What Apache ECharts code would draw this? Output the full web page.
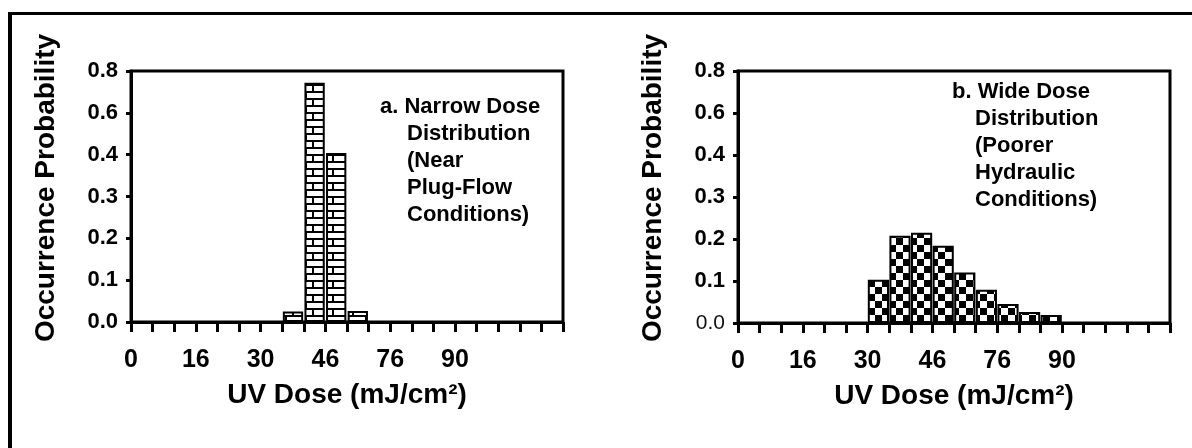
<!DOCTYPE html>
<html>
<head>
<meta charset="utf-8">
<script src="https://cdn.jsdelivr.net/npm/echarts@6/dist/echarts.min.js"></script>
<style>
html,body{margin:0;padding:0;background:#fff;}
#chart{width:1192px;height:448px;}
</style>
</head>
<body>
<div id="chart"></div>
<script>
// ---- data ----
const doseBins = ['0-5','5-10','10-15','15-20','20-25','25-30','30-35','35-40','40-45','45-50',
                  '50-55','55-60','60-65','65-70','70-75','75-80','80-85','85-90','90-95','95-100'];
// panel a: narrow dose distribution (heights in axis units)
const narrowValues = [0,0,0,0,0,0,0,0.025,0.572,0.404,0.026,0,0,0,0,0,0,0,0,0];
// panel b: wide dose distribution
const wideValues   = [0,0,0,0,0,0,0.103,0.208,0.215,0.184,0.12,0.079,0.045,0.026,0.019,0,0,0,0,0];
const xTickValues = [0,15,30,45,60,75];
const xTickLabels = ['0','16','30','46','76','90'];
const yTickLabels = ['0.0','0.1','0.2','0.3','0.4','0.6','0.8'];
const xName = 'UV Dose (mJ/cm\u00b2)';
const yName = 'Occurrence Probability';
const noteA = ['a. Narrow Dose','Distribution','(Near','Plug-Flow','Conditions)'];
const noteB = ['b. Wide Dose','Distribution','(Poorer','Hydraulic','Conditions)'];

// ---- patterns ----
function brickPattern(){
  const c=document.createElement('canvas'); c.width=20; c.height=14;
  const g=c.getContext('2d');
  g.fillStyle='#fff'; g.fillRect(0,0,20,14);
  g.fillStyle='#000';
  g.fillRect(0,0,20,2); g.fillRect(0,7,20,2);
  g.fillRect(12,0,2,7); g.fillRect(5,7,2,7);
  return c;
}
function checkerPattern(){
  const c=document.createElement('canvas'); c.width=14; c.height=14;
  const g=c.getContext('2d');
  g.fillStyle='#fff'; g.fillRect(0,0,14,14);
  g.fillStyle='#000';
  g.fillRect(0,0,7,7); g.fillRect(7,7,7,7);
  return c;
}

const F = 'Liberation Sans, Arial, sans-serif';

function xAxes(gi){
  return [
    {gridIndex:gi, type:'category', data:doseBins, show:false, position:'top'},
    {gridIndex:gi, type:'value', min:0, max:100, interval:5, position:'bottom',
     axisLine:{show:true, lineStyle:{color:'#000', width:3}},
     axisTick:{show:true, length:10, lineStyle:{color:'#000', width:3}},
     splitLine:{show:false},
     axisLabel:{show:true, margin:26, color:'#000', fontFamily:F, fontWeight:'bold', fontSize:25,
       formatter:function(v){ const i=xTickValues.indexOf(Math.round(v)); return i>=0? xTickLabels[i]:''; }},
     name:xName, nameLocation:'middle', nameGap:59,
     nameTextStyle:{color:'#000', fontFamily:F, fontWeight:'bold', fontSize:28}
    }
  ];
}
function yAxis(gi, thinZero){
  return {gridIndex:gi, type:'value', min:0, max:0.6, interval:0.1,
    axisLine:{show:true, lineStyle:{color:'#000', width:3}},
    axisTick:{show:true, length:5, lineStyle:{color:'#000', width:3}},
    splitLine:{show:false},
    axisLabel:{margin:13, color:'#000', fontFamily:F, fontWeight:'bold', fontSize:22,
      formatter:function(v){ const i=Math.round(v*10); const t=yTickLabels[i];
        return (thinZero && i===0) ? '{thin|'+t+'}' : t; },
      rich:{thin:{fontFamily:F, fontWeight:'normal', fontSize:21, color:'#111'}}}
  };
}
function note(lines, x0, x1, y0, dy){
  return lines.map((t,i)=>({type:'text', x:(i===0?x0:x1), y:y0+i*dy,
    style:{text:t, fill:'#000', font:'bold 22px '+F, textAlign:'left', textVerticalAlign:'top', align:'left', verticalAlign:'top'}}));
}
function yTitle(cx, cy){
  return {type:'text', x:cx, y:cy, rotation:Math.PI/2,
    style:{text:yName, fill:'#000', font:'bold 28px '+F, textAlign:'center', textVerticalAlign:'middle', align:'center', verticalAlign:'middle'}};
}

const chart = echarts.init(document.getElementById('chart'), null, {renderer:'canvas'});
chart.setOption({
  backgroundColor:'#fff',
  animation:false,
  grid:[
    {left:131, top:71, width:432, height:251, show:true, borderColor:'#000', borderWidth:3, backgroundColor:'transparent'},
    {left:738, top:71, width:432, height:252, show:true, borderColor:'#000', borderWidth:3, backgroundColor:'transparent'}
  ],
  xAxis:[...xAxes(0), ...xAxes(1)],
  yAxis:[yAxis(0,false), yAxis(1,true)],
  series:[
    {type:'bar', xAxisIndex:0, yAxisIndex:0, data:narrowValues, barCategoryGap:'6%',
     itemStyle:{color:{image:brickPattern(), repeat:'repeat'}, borderColor:'#000', borderWidth:2}},
    {type:'bar', xAxisIndex:2, yAxisIndex:1, data:wideValues, barCategoryGap:'2%',
     itemStyle:{color:{image:checkerPattern(), repeat:'repeat'}, borderColor:'#000', borderWidth:2}}
  ],
  graphic:[
    {type:'rect', shape:{x:8, y:12, width:1184, height:3}, style:{fill:'#000'}},
    {type:'rect', shape:{x:8, y:12, width:4, height:436}, style:{fill:'#000'}},
    yTitle(46, 188),
    yTitle(653, 188),
    ...note(noteA, 380, 407, 96, 27),
    ...note(noteB, 952, 975, 81, 27)
  ]
});
</script>
</body>
</html>
